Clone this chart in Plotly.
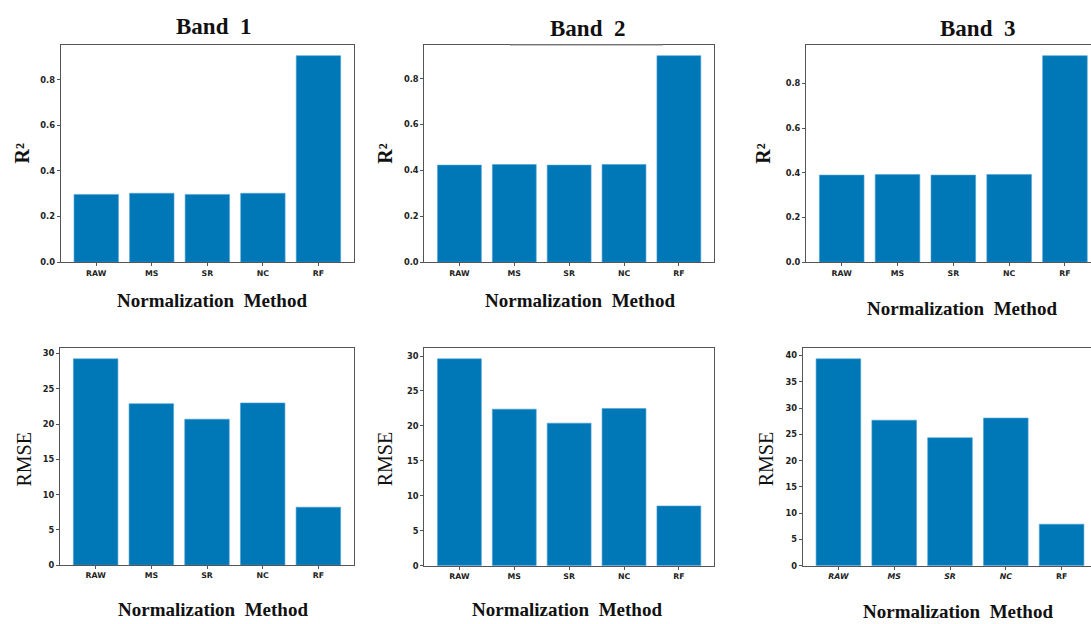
import plotly.graph_objects as go

W, H = 1091, 624

methods = ["RAW", "MS", "SR", "NC", "RF"]
methods_italic = ["<i>RAW</i>", "<i>MS</i>", "<i>SR</i>", "<i>NC</i>", "RF"]

r2_band1 = [0.297, 0.302, 0.297, 0.302, 0.905]
r2_band2 = [0.423, 0.426, 0.423, 0.426, 0.900]
r2_band3 = [0.390, 0.393, 0.390, 0.393, 0.925]

rmse_band1 = [29.26, 22.9, 20.7, 23.0, 8.22]
rmse_band2 = [29.6, 22.4, 20.4, 22.5, 8.55]
rmse_band3 = [39.37, 27.7, 24.36, 28.1, 7.91]

band_titles = ["Band\u00a0 1", "Band\u00a0 2", "Band\u00a0 3"]
xlabel = "Normalization\u00a0 Method"

BAR = "#0077b6"
SPINE = "#555555"

def px(x):
    return x / W

def py(y):
    return 1 - y / H

panels = [
    (r2_band1, (60.7, 45.7, 354.0, 264.3), 4.64, 0.2, ".1f", methods),
    (r2_band2, (424.3, 45.7, 714.0, 264.3), 4.64, 0.2, ".1f", methods),
    (r2_band3, (806.0, 45.7, 1091.0, 264.3), 4.467, 0.2, ".1f", methods),
    (rmse_band1, (60.0, 351.3, 354.0, 569.7), 4.64, 5, "d", methods),
    (rmse_band2, (424.3, 351.3, 714.0, 570.3), 4.64, 5, "d", methods),
    (rmse_band3, (802.7, 351.3, 1091.0, 570.3), 4.527, 5, "d", methods_italic),
]

fig = go.Figure()
layout = {}
for i, (vals, (l, t, r, b), xmax, dt, fmt, ticks) in enumerate(panels):
    n = "" if i == 0 else str(i + 1)
    fig.add_trace(go.Bar(
        x=list(range(len(methods))), y=vals, width=0.8,
        marker=dict(color=BAR, line=dict(width=0.6, color="#4fa3d6")),
        xaxis="x" + n, yaxis="y" + n, showlegend=False,
    ))
    cut = r >= W - 0.5
    layout["xaxis" + n] = dict(
        domain=[px(l), px(r)], anchor="y" + n, range=[-0.64, xmax],
        tickmode="array", tickvals=list(range(len(methods))), ticktext=ticks,
        showgrid=False, zeroline=False, showline=True, linecolor=SPINE,
        linewidth=1, mirror=True, ticks="outside", ticklen=3, tickcolor=SPINE,
        tickfont=dict(family="DejaVu Sans", size=7.8, color="#222", weight="bold"),
    )
    layout["yaxis" + n] = dict(
        domain=[py(b), py(t)], anchor="x" + n, range=[0, max(vals) * 1.05],
        dtick=dt, tick0=0, tickformat=fmt,
        showgrid=False, zeroline=False, showline=True, linecolor=SPINE,
        linewidth=1, mirror=(not cut), ticks="outside", ticklen=3, tickcolor=SPINE,
        tickfont=dict(family="DejaVu Sans", size=8.3, color="#222", weight="bold"),
    )

annotations = []
def ann(text, x, y, size, bold=True, angle=0):
    annotations.append(dict(
        text=text, x=px(x), y=py(y), xref="paper", yref="paper",
        xanchor="center", yanchor="middle", showarrow=False, textangle=angle,
        font=dict(family="Liberation Serif", size=size, color="#111",
                  weight="bold" if bold else "normal"),
    ))

for t, (x, y) in zip(band_titles, [(213, 27), (587, 29), (977, 29)]):
    ann(t, x, y, 23)
for (x, y) in [(21.7, 155), (385, 155), (763, 155)]:
    ann("R²", x, y, 20, angle=-90)
for (x, y) in [(24.3, 463), (385, 463), (766, 463)]:
    ann("RMSE", x, y, 20, bold=False, angle=-90)
for (x, y) in [(211.5, 303), (580, 303), (962, 311), (213, 614), (567, 614), (958, 616)]:
    ann(xlabel, x, y, 19)

shapes = [dict(type="line", xref="paper", yref="paper",
               x0=px(510), x1=px(663), y0=py(45.7), y1=py(45.7),
               line=dict(color="#c4c4c4", width=1.2), layer="above")]

fig.update_layout(
    width=W, height=H, margin=dict(l=0, r=0, t=0, b=0),
    paper_bgcolor="white", plot_bgcolor="white",
    annotations=annotations, shapes=shapes, bargap=0.2,
    **layout,
)

fig.write_html("out.html")
